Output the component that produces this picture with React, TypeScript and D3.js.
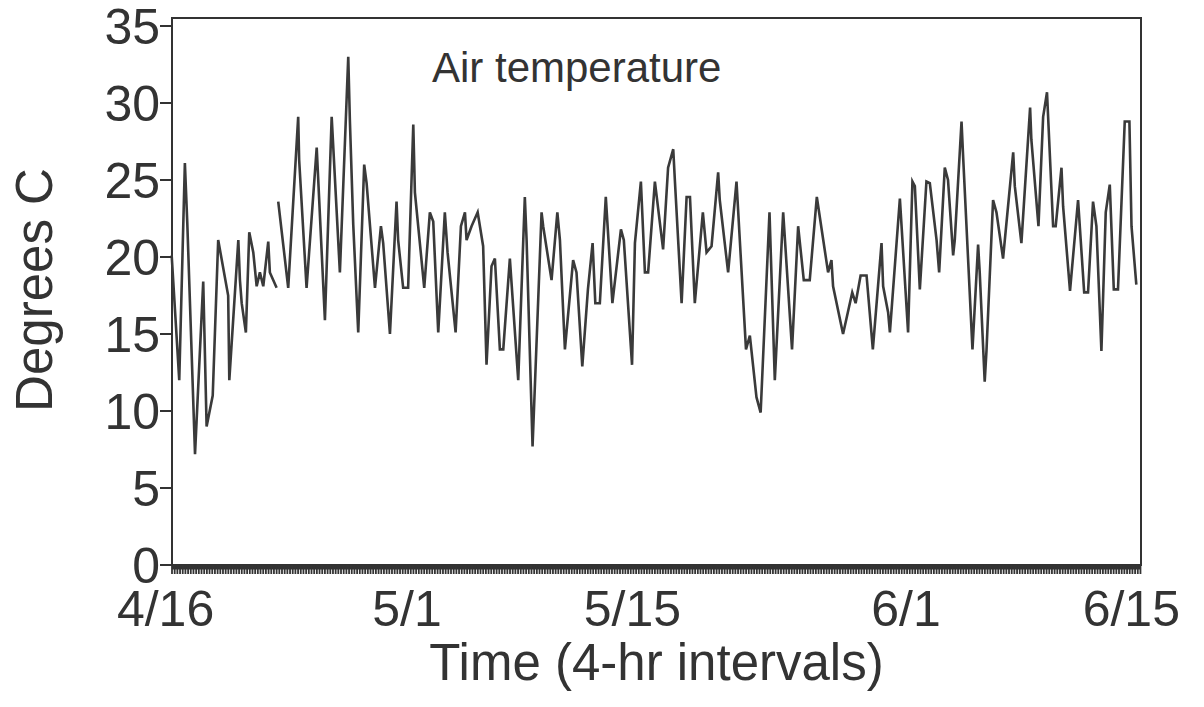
import React from "react";
import * as d3 from "d3";

// Time in days since 4/16 (4-hr interval resolution)
const days: number[] = [
  0.38, 0.85, 1.2, 1.35, 1.83, 2.34, 2.55, 2.93, 3.27, 3.89, 3.96, 4.52, 4.62, 4.73, 4.99, 5.2, 5.45, 5.66, 5.86, 6.07, 6.38, 6.48, 6.9,
  6.95,
  7.0, 7.62, 8.24, 8.3, 8.76, 9.39, 9.9, 10.32, 10.83, 11.35, 11.45, 11.66, 11.97, 12.34, 12.49, 13.01, 13.38, 13.52, 13.94, 14.35, 14.45,
  14.76, 15.07, 15.39, 15.49, 16.07, 16.42, 16.63, 16.94, 17.35, 17.52, 18.02, 18.35, 18.6, 18.7, 19.01, 19.39, 19.73, 19.94, 20.25, 20.46,
  20.77, 20.98, 21.39, 21.91, 22.32, 22.43, 22.8, 23.36, 23.46, 23.98, 24.34, 24.5, 24.81, 25.32, 25.53, 25.89, 26.24, 26.53, 26.7, 26.98,
  27.35, 27.76, 28.29, 28.47, 28.98, 29.16, 29.53, 29.78, 29.98, 30.4, 30.91, 31.22, 31.54, 31.64, 32.06, 32.37, 32.58, 32.88, 33.38, 33.61,
  33.92, 34.33, 34.43, 34.95, 35.47, 36.06, 36.3, 36.71, 36.97, 37.52, 37.85, 38.37, 38.92, 39.3, 39.65, 40.02, 40.46, 41.16, 41.37, 41.47,
  42.09, 42.66, 42.87, 43.18, 43.55, 43.94, 44.48, 44.58, 44.89, 45.0, 45.62, 46.13, 46.4, 46.55, 46.86, 47.27, 47.48, 47.9, 48.06, 48.41,
  48.61, 48.93, 49.03, 49.45, 49.55, 50.13, 50.48, 50.58, 50.89, 51.0, 51.41, 51.62, 52.03, 52.66, 52.76, 53.17, 53.71, 53.79, 54.23, 54.52,
  54.76, 55.14, 55.3, 55.66, 55.76, 56.19, 56.69, 57.07, 57.31, 57.62, 57.83, 58.14, 58.41, 58.66, 58.91, 59.17, 59.59, 59.88, 60.01, 60.31,
];

// Air temperature, degrees C (null = missing record)
const temps: (number | null)[] = [
  20.1, 12.0, 26.1, 22.2, 7.2, 18.4, 9.0, 11.0, 21.1, 17.5, 12.0, 21.1, 18.5, 17.0, 15.1, 21.6, 20.3, 18.1, 19.0, 18.1, 21.0, 19.0, 18.0,
  null,
  23.6, 18.0, 29.1, 26.3, 18.0, 27.1, 15.9, 29.1, 19.0, 33.0, 28.9, 22.1, 15.1, 26.0, 24.8, 18.0, 22.0, 20.9, 15.0, 23.6, 21.1,
  18.0, 18.0, 28.6, 24.2, 18.0, 22.9, 22.3, 15.1, 22.9, 20.3, 15.1, 22.0, 22.9, 21.1, 22.0, 22.9, 20.7, 13.0, 19.4, 19.9,
  14.0, 14.0, 19.9, 12.0, 23.9, 21.1, 7.7, 22.9, 22.0, 18.5, 22.9, 21.1, 14.0, 19.8, 19.0, 12.9, 17.9, 20.9, 17.0, 17.0,
  23.9, 17.0, 21.8, 21.1, 13.0, 20.9, 24.9, 19.0, 19.0, 24.9, 20.5, 25.8, 27.0, 25.0, 17.0, 23.9, 23.9, 17.0, 22.9, 20.3,
  20.7, 25.5, 23.7, 19.0, 24.9, 14.0, 14.9, 10.9, 9.9, 22.9, 12.0, 22.9, 14.0, 22.0, 18.5, 18.5, 23.9, 19.0, 19.8, 18.1,
  15.0, 17.7, 17.0, 18.8, 18.8, 14.0, 20.9, 18.1, 16.4, 15.1, 23.8, 15.1, 24.9, 24.6, 17.9, 24.9, 24.8, 21.1, 19.0, 25.8,
  25.0, 20.1, 21.1, 28.8, 26.5, 14.0, 20.8, 19.0, 11.9, 13.9, 23.7, 22.9, 19.9, 26.8, 24.6, 20.9, 29.7, 27.6, 22.0, 29.1,
  30.7, 22.0, 22.0, 25.8, 23.3, 17.8, 23.7, 17.7, 17.7, 23.6, 22.0, 13.9, 22.9, 24.7, 17.9, 17.9, 28.8, 28.8, 22.0, 18.2,
];

const yTicks: number[] = [0, 5, 10, 15, 20, 25, 30, 35];
const xTickDays: number[] = [0, 15, 29, 46, 60];
const xTickLabels: string[] = ["4/16", "5/1", "5/15", "6/1", "6/15"];

const title = "Air temperature";
const xTitle = "Time (4-hr intervals)";
const yTitle = "Degrees C";

export default function App() {
  const W = 1204;
  const H = 707;
  const left = 172;
  const right = 1141;
  const top = 18;
  const bottom = 565;
  const ink = "#333";

  const x = d3.scaleLinear().domain([0.4, 60.6]).range([left, right]);
  const y = d3.scaleLinear().domain([0, 35]).range([565, 26]);

  const pts = days.map((d, i) => ({ d, v: temps[i] }));
  const line = d3
    .line<{ d: number; v: number | null }>()
    .defined((p) => p.v !== null)
    .x((p) => x(p.d))
    .y((p) => y(p.v as number));

  // 4-hr interval ticks along the time axis
  const intervalTicks = d3.range(0.4, 60.6, 1 / 6);

  const font = "'Liberation Sans', Arial, Helvetica, sans-serif";

  return (
    <svg
      width={W}
      height={H}
      style={{ position: "absolute", left: 0, top: 0, background: "#fff" }}
      fontFamily={font}
    >
      <rect x={0} y={0} width={W} height={H} fill="#fff" />
      {/* frame */}
      <rect x={left} y={top} width={right - left} height={bottom - top} fill="none" stroke={ink} strokeWidth={2} />
      {/* data line */}
      <path d={line(pts) || ""} fill="none" stroke="#3a3a3a" strokeWidth={2.6} strokeLinejoin="miter" strokeMiterlimit={4} />
      {/* y axis ticks + labels */}
      {yTicks.map((t) => (
        <g key={t}>
          <line x1={left - 12} x2={left} y1={y(t)} y2={y(t)} stroke={ink} strokeWidth={2} />
          <text x={left - 12} y={y(t)} dy="0.36em" textAnchor="end" fontSize={50} fill={ink}>
            {t}
          </text>
        </g>
      ))}
      {/* dense x-axis ticks */}
      <line x1={left} x2={right} y1={bottom + 2} y2={bottom + 2} stroke={ink} strokeWidth={5} />
      {intervalTicks.map((d, i) => (
        <line key={i} x1={x(d)} x2={x(d)} y1={bottom} y2={bottom + 9} stroke={ink} strokeWidth={1.8} />
      ))}
      {xTickDays.map((d, i) => (
        <text key={d} x={x(d)} y={626} textAnchor="middle" fontSize={50} fill={ink}>
          {xTickLabels[i]}
        </text>
      ))}
      <text x={(left + right) / 2 + 0} y={680} textAnchor="middle" fontSize={51} fill={ink}>
        {xTitle}
      </text>
      <text
        transform={`translate(52, ${290}) rotate(-90)`}
        textAnchor="middle"
        fontSize={51}
        fill={ink}
      >
        {yTitle}
      </text>
      <text x={432} y={82} fontSize={42} fill={ink}>
        {title}
      </text>
    </svg>
  );
}
